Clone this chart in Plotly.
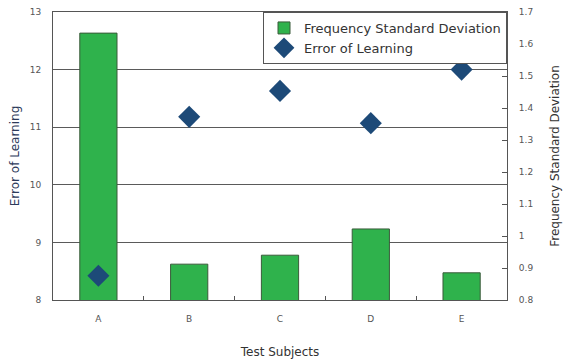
import plotly.graph_objects as go

subjects = ["A", "B", "C", "D", "E"]
freq_std_dev = [1.634, 0.912, 0.94, 1.022, 0.885]
error_of_learning = [8.42, 11.18, 11.63, 11.07, 12.0]

left_ticks = [8, 9, 10, 11, 12, 13]
right_ticks = [0.8, 0.9, 1.0, 1.1, 1.2, 1.3, 1.4, 1.5, 1.6, 1.7]
right_labels = ["0.8", "0.9", "1", "1.1", "1.2", "1.3", "1.4", "1.5", "1.6", "1.7"]

FONT = "DejaVu Sans, Liberation Sans, sans-serif"
fig = go.Figure()
fig.add_trace(go.Bar(
    x=subjects, y=freq_std_dev, name="Frequency Standard Deviation",
    marker=dict(color="#2fb24c", line=dict(color="#3a5a3a", width=1)),
    yaxis="y",
))
fig.add_trace(go.Scatter(
    x=subjects, y=error_of_learning, name="Error of Learning", mode="markers",
    marker=dict(symbol="diamond", size=17, color="#1d4a78"),
    yaxis="y2",
))

axis_line = "#555555"
tick_font = dict(family=FONT, size=9, color="#555555")
fig.update_layout(
    width=563, height=356,
    margin=dict(l=45, r=64, t=4, b=64, autoexpand=False),
    paper_bgcolor="white", plot_bgcolor="white",
    font=dict(family=FONT, size=9, color="#444444"),
    bargap=0.59,
    showlegend=True,
    legend=dict(x=1, y=1, xanchor="right", yanchor="top",
                bordercolor=axis_line, borderwidth=1, bgcolor="white",
                font=dict(family=FONT, size=13, color="#333333"), traceorder="normal",
                tracegroupgap=0),
    xaxis=dict(
        type="category", showline=True, linecolor=axis_line, linewidth=1, mirror=True,
        ticks="inside", tickson="boundaries", ticklen=4, tickcolor=axis_line,
        showgrid=False, automargin=False, ticklabelstandoff=10,
        title=dict(text="Test Subjects", font=dict(family=FONT, size=12, color="#333333"), standoff=24),
        tickfont=tick_font,
    ),
    yaxis=dict(
        side="right", range=[0.8, 1.7], automargin=False,
        tickmode="array", tickvals=right_ticks, ticktext=right_labels,
        ticks="inside", ticklen=5, tickcolor=axis_line, ticklabelstandoff=9,
        ticklabeloverflow="allow",
        showgrid=False, zeroline=False, showline=True, linecolor=axis_line, mirror=True,
        title=dict(text="Frequency Standard Deviation", font=dict(family=FONT, size=12, color="#333333"), standoff=18),
        tickfont=tick_font,
    ),
    yaxis2=dict(
        side="left", overlaying="y", range=[8, 13], automargin=False,
        tickmode="array", tickvals=left_ticks,
        ticks="", showgrid=True, gridcolor="#5a5a5a", gridwidth=1, zeroline=False,
        showline=True, linecolor=axis_line, ticklabelstandoff=9,
        ticklabeloverflow="allow",
        title=dict(text="Error of Learning", font=dict(family=FONT, size=12, color="#2d3a5a"), standoff=10),
        tickfont=tick_font,
    ),
)
fig.write_html("out.html")
